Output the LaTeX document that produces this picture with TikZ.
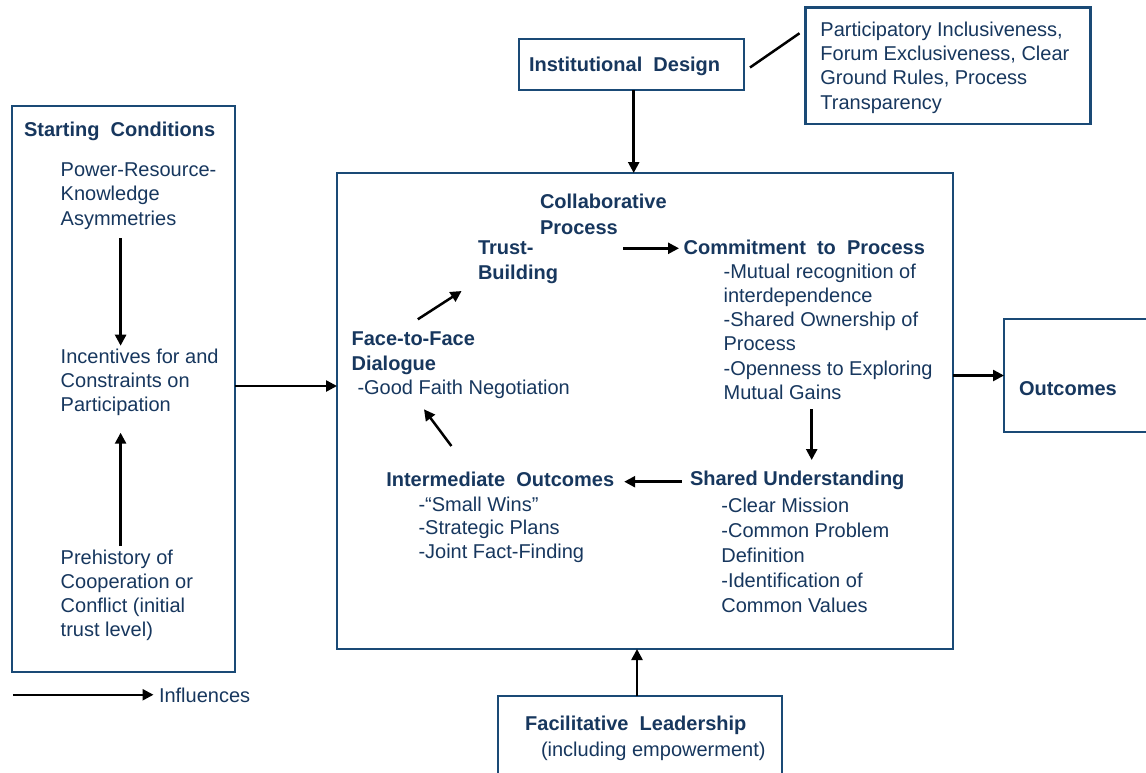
\documentclass[tikz,border=0pt]{standalone}
\usepackage{fontspec}
\setmainfont{Liberation Sans}
\usetikzlibrary{arrows.meta}
\definecolor{textc}{HTML}{17375E}
\definecolor{bordc}{HTML}{1A4A76}
\newcommand\dsp{\hspace{0.28em}}
\begin{document}
\begin{tikzpicture}[x=1pt,y=-1pt,
  box/.style={draw=bordc, line width=2.8pt, anchor=north west, inner sep=0pt, outer sep=0pt},
  txt/.style={text=textc, anchor=base west, inner sep=0pt, outer sep=0pt, align=left},
  fs/.style={font=\fontsize{20}{#1}\selectfont},
  fb/.style={font=\fontsize{20}{#1}\selectfont\bfseries},
  arr/.style={-{Triangle[length=11pt,width=11pt]}, line width=2.5pt, black},
  plain/.style={line width=2.5pt, black}]
\useasboundingbox (0,0) rectangle (1146,772);
\clip (0,0) rectangle (1146,772);
\fill[white] (0,0) rectangle (1146,772);

% boxes
\node[box, minimum width=223pt, minimum height=566pt] (sc) at (12,106) {};
\node[box, minimum width=225pt, minimum height=51pt] (id) at (519,39) {};
\node[box, minimum width=285pt, minimum height=116.5pt] (part) at (805.5,7.5) {};
\node[box, minimum width=616pt, minimum height=476pt] (main) at (337,173) {};
\node[box, minimum width=170pt, minimum height=113pt] (out) at (1004,319) {};
\node[box, minimum width=284pt, minimum height=110pt] (fl) at (498,696) {};

% texts (base anchor = baseline of the last line)
\node[txt, fb=24] (idt) at (529,71) {Institutional \dsp Design};
\node[txt, fs=24.1] (partt) at (820.4,109) {Participatory Inclusiveness,\\Forum Exclusiveness, Clear\\Ground Rules, Process\\Transparency};
\node[txt, fb=24] (sct) at (24,136.7) {Starting \dsp Conditions};
\node[txt, fs=24.2] (sc1) at (60.7,225.1) {Power-Resource-\\Knowledge\\Asymmetries};
\node[txt, fs=24] (sc2) at (60.7,411) {Incentives for and\\Constraints on\\Participation};
\node[txt, fs=24] (sc3) at (60.7,636.3) {Prehistory of\\Cooperation or\\Conflict (initial\\trust level)};
\node[txt, fb=26] (cp) at (540,234) {Collaborative\\Process};
\node[txt, fb=25.3] (tb) at (478,279.3) {Trust-\\Building};
\node[txt, fb=24] (cm) at (683.7,254) {Commitment \dsp to \dsp Process};
\node[txt, fs=24.2] (cmd) at (723.6,399.3) {-Mutual recognition of\\interdependence\\-Shared Ownership of\\Process\\-Openness to Exploring\\Mutual Gains};
\node[txt, fb=24] (su) at (690,485.3) {Shared Understanding};
\node[txt, fs=25.2] (sud) at (721.4,612.8) {-Clear Mission\\-Common Problem\\Definition\\-Identification of\\Common Values};
\node[txt, fb=24] (io) at (386.3,486) {Intermediate \dsp Outcomes};
\node[txt, fs=23.85] (iod) at (418.5,558.7) {-“Small Wins”\\-Strategic Plans\\-Joint Fact-Finding};
\node[txt, fb=25] (ftf) at (351.6,370) {Face-to-Face\\Dialogue};
\node[txt, fs=24] (gfn) at (357.5,394.3) {-Good Faith Negotiation};
\node[txt, fb=24] (outt) at (1019,395.6) {Outcomes};
\node[txt, fb=24] (flt) at (525.2,730.3) {Facilitative \dsp Leadership};
\node[txt, fs=24] (fls) at (541,756) {(including empowerment)};
\node[txt, fs=24] (infl) at (159,702) {Influences};

% connectors between boxes
\draw[arr] ([yshift=3pt]sc.east) -- ([yshift=3pt]sc.east -| main.west);
\draw[arr] ([xshift=2.2pt]id.south) -- ([xshift=2.2pt]id.south |- main.north);
\draw[plain] ([xshift=6pt,yshift=-3pt]id.east) -- ([xshift=-6pt,yshift=32.5pt]part.west);
\draw[arr] (out.west -| main.east) -- (out.west);
\draw[arr] ([xshift=-3pt]fl.north) -- ([xshift=-3pt]fl.north |- main.south);

% internal arrows
\coordinate (c1) at (120.6,238);
\coordinate (c2) at (120.6,345.7);
\coordinate (c3) at (120.6,546);
\coordinate (c4) at (120.6,432.7);
\draw[arr] (c1) -- (c2);
\draw[arr] (c3) -- (c4);
\coordinate (c5) at (623,248.3);
\draw[arr, shorten >=4.7pt] (c5) -- (c5 -| cm.west);
\coordinate (c6) at (811.7,409.3);
\coordinate (c7) at (811.7,460);
\draw[arr] (c6) -- (c7);
\coordinate (c8) at (681.6,481.7);
\coordinate (c9) at (624.2,481.7);
\draw[arr] (c8) -- (c9);
\coordinate (c10) at (451.4,446);
\coordinate (c11) at (424,409.3);
\draw[arr] (c10) -- (c11);
\coordinate (c12) at (417.8,319.3);
\coordinate (c13) at (461.6,291);
\draw[arr] (c12) -- (c13);
\coordinate (lg) at (12.8,694.75);
\draw[arr, shorten >=5.5pt] (lg) -- (lg -| infl.west);
\end{tikzpicture}
\end{document}
